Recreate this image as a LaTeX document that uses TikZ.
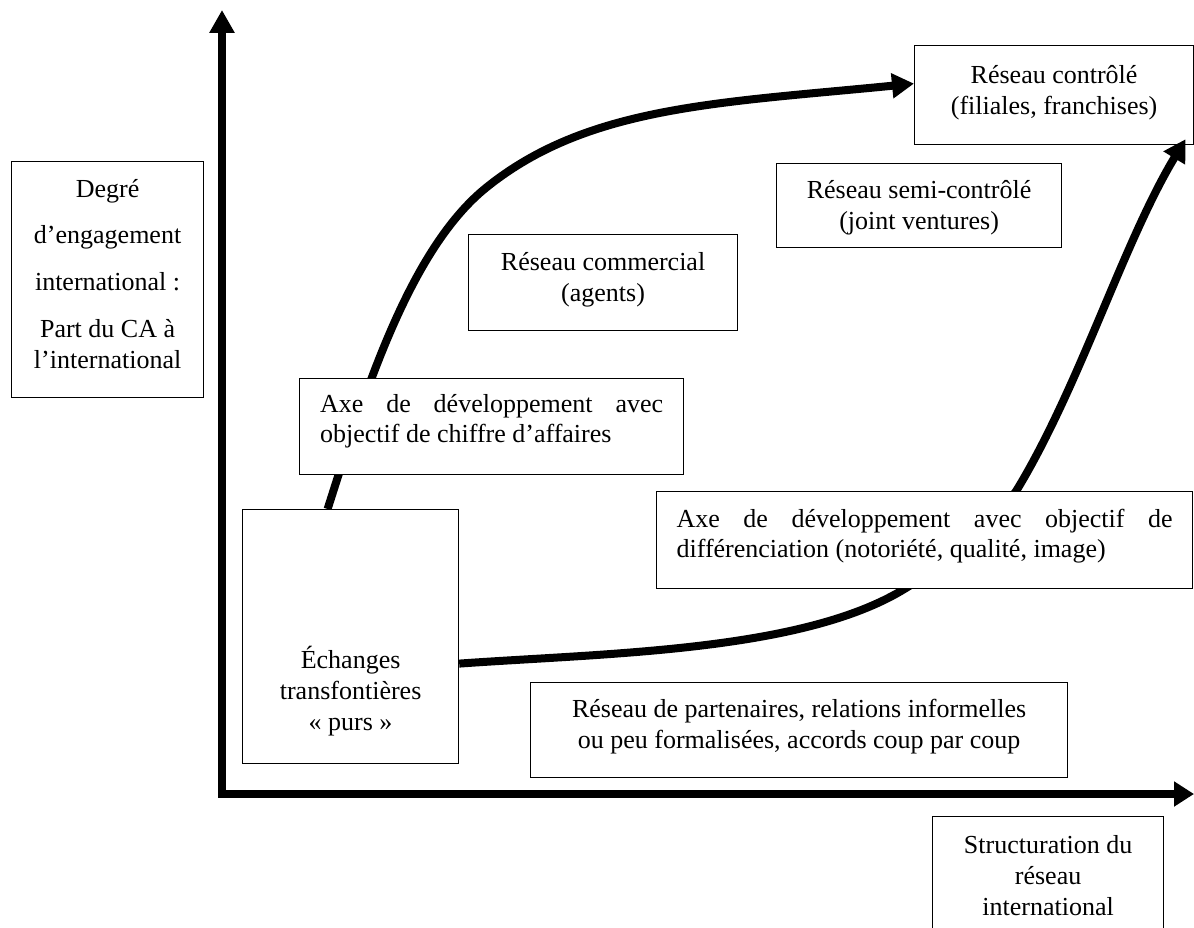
\documentclass[tikz,border=0pt]{standalone}
\usepackage{fontspec}
\setmainfont{Liberation Serif}
\usetikzlibrary{arrows.meta,calc}
\pgfdeclarelayer{background}
\pgfsetlayers{background,main}
\newcommand{\bxc}[4]{\parbox[c][#2][t]{#1}{\centering\vspace*{#3}\strut#4}}
\newcommand{\bxl}[4]{\parbox[c][#2][t]{#1}{\vspace*{#3}\noindent\strut#4}}
\begin{document}
\begin{tikzpicture}[x=1pt,y=-1pt,
  box/.style={draw=black, line width=1.2pt, fill=white, inner sep=0pt, anchor=north west, font=\fontsize{26}{31}\selectfont},
  boxj/.style={box, font=\fontsize{26}{30}\selectfont},
  axis/.style={line width=8pt, line join=miter, {Triangle[length=23pt,width=24pt]}-{Triangle[length=20pt,width=24pt]}},
  curve/.style={line width=8pt, -{Triangle[length=22pt,width=24pt]}}]
\useasboundingbox (0,0) rectangle (1194,928);
\clip (0,0) rectangle (1194,928);

\node[box] (deg) at (11,161) {\bxc{192pt}{236pt}{14pt}{Degré\\[15pt]d’engagement\\[16pt]international :\\[16pt]Part du CA à\\l’international}};
\node[box,fill=none] (rc) at (914,45) {\bxc{279pt}{99pt}{16pt}{Réseau contrôlé\\(filiales, franchises)}};
\node[box] (semi) at (776,163) {\bxc{285pt}{84pt}{13pt}{Réseau semi-contrôlé\\(joint ventures)}};
\node[box] (comm) at (468,234) {\bxc{269pt}{96pt}{14pt}{Réseau commercial\\(agents)}};
\node[boxj, inner xsep=20.5pt] (axe1) at (299,378) {\bxl{343pt}{96pt}{13pt}{\hbox to 343pt{Axe\hfill de\hfill développement\hfill avec}\\objectif de chiffre d’affaires}};
\node[boxj, inner xsep=20pt] (axe2) at (656,491) {\bxl{496pt}{97pt}{15pt}{\hbox to 496pt{Axe\hfill de\hfill développement\hfill avec\hfill objectif\hfill de}\\différenciation (notoriété, qualité, image)}};
\node[box] (part) at (530,682) {\bxc{537pt}{95pt}{13pt}{Réseau de partenaires, relations informelles\\ou peu formalisées, accords coup par coup}};
\node[box] (ech) at (242,509) {\bxc{216pt}{254pt}{137pt}{Échanges\\transfontières\\«~purs~»}};
\node[box] (struct) at (932,816) {\bxc{231pt}{160pt}{15pt}{Structuration du\\réseau\\international}};

\begin{pgfonlayer}{background}
\coordinate (O) at (222,794);
\coordinate (ytip) at (222,10);
\coordinate (xtip) at (1194,794);
\draw[axis] (ytip) -- (O) -- (xtip);
\coordinate (c1m) at (487,187);
\draw[curve] ([xshift=-23pt]ech.north) .. controls (364,395) and (409,249) .. (c1m) .. controls (588,106) and (718,103) .. ([yshift=11.5pt]rc.west);
\coordinate (c2m) at (906,588);
\coordinate (c2n) at (1018,488);
\draw[curve] ([yshift=-27pt]ech.east) .. controls (608,653) and (804,651.6) .. (c2m) .. controls (940,567) and (997,522) .. (c2n) .. controls (1080,385) and (1124,241) .. ([xshift=131.5pt,yshift=6pt]rc.south);
\end{pgfonlayer}
\end{tikzpicture}
\end{document}
